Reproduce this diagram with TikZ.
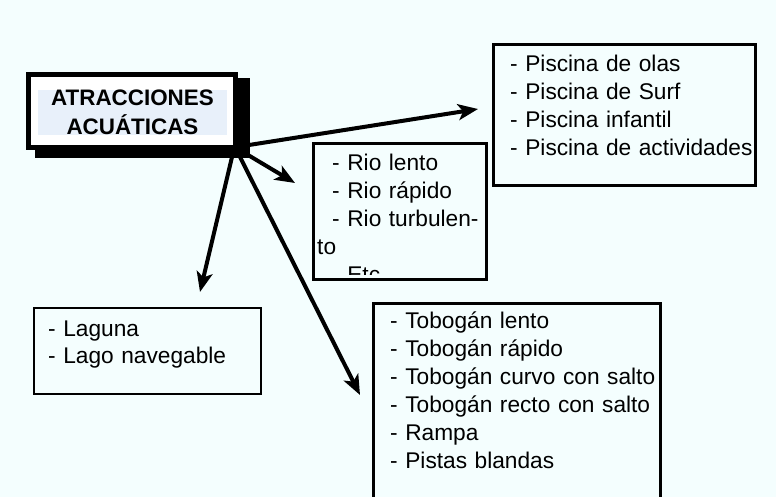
\documentclass[tikz,border=0pt]{standalone}
\usepackage{fontspec}
\setmainfont{Liberation Sans}
\usetikzlibrary{arrows.meta}
\definecolor{bg}{RGB}{244,254,254}
\definecolor{titlefill}{RGB}{232,240,250}
\begin{document}
\begin{tikzpicture}[x=1pt,y=-1pt,
  box/.style={draw, line width=3pt, outer sep=0pt, inner sep=0pt, anchor=north west, fill=bg},
  txt/.style={font=\fontsize{22.7}{28}\selectfont, text width=300pt, align=left, inner sep=0pt, anchor=base west},
  arr/.style={line width=4pt, -{Stealth[length=20pt,width=16pt,inset=5pt]}}]
\fill[bg] (0,0) rectangle (776,497);
\clip (0,0) rectangle (776,497);
% main box with shadow
\node[fill=black, draw=none, outer sep=0pt, inner sep=0pt, anchor=north west, minimum width=215pt, minimum height=80pt] (shadow) at (35,78) {};
\node[draw, line width=5pt, fill=white, outer sep=0pt, inner sep=0pt, anchor=north west, minimum width=207pt, minimum height=73pt] (main) at (28.5,74.5) {};
\node[fill=titlefill, inner sep=0pt, text width=189pt, align=center, anchor=base, font=\fontsize{22.4}{29}\selectfont\bfseries] (title) at (132.5,106) {ATRACCIONES\\ACUÁTICAS};
% boxes
\node[box, minimum width=262pt, minimum height=141pt] (pisc) at (493.5,44.5) {};
\node[txt] (pisctxt) at (510,72) {- Piscina de olas\\- Piscina de Surf\\- Piscina infantil\\- Piscina de actividades};
\node[box, minimum width=173pt, minimum height=136pt] (rio) at (313.5,143.5) {};
\begin{scope}
\clip (315,145) rectangle (486,274.5);
\node[txt] (riotxt) at (317,171) {\hspace*{15pt}- Rio lento\\\hspace*{15pt}- Rio rápido\\\hspace*{15pt}- Rio turbulen-\\to\\\hspace*{15pt}- Etc};
\end{scope}
\node[box, minimum width=287pt, minimum height=250pt] (tobo) at (373.5,303.5) {};
\node[txt] (tobotxt) at (390,328.5) {- Tobogán lento\\- Tobogán rápido\\- Tobogán curvo con salto\\- Tobogán recto con salto\\- Rampa\\- Pistas blandas};
\node[box, line width=2pt, minimum width=227pt, minimum height=86pt] (lago) at (34,308) {};
\node[txt, font=\fontsize{22.7}{27}\selectfont] (lagotxt) at (48,336) {- Laguna\\- Lago navegable};
% arrows
\coordinate (s1) at (249,145); \coordinate (t1) at (478,109);
\coordinate (s2) at (243,152); \coordinate (t2) at (295,183);
\coordinate (s3) at (232,157); \coordinate (t3) at (200,292);
\coordinate (s4) at (240,157); \coordinate (t4) at (360,395);
\draw[arr] (s1) -- (t1);
\draw[arr] (s2) -- (t2);
\draw[arr] (s3) -- (t3);
\draw[arr] (s4) -- (t4);
\end{tikzpicture}
\end{document}
